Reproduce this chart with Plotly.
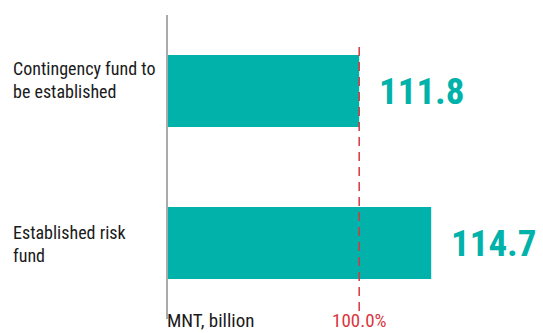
import plotly.graph_objects as go

# Data
categories = ["Contingency fund to<br>be established", "Established risk<br>fund"]
values = [111.8, 114.7]
value_labels = ["111.8", "114.7"]
target_value = 111.8
target_label = "100.0%"
unit_label = "MNT, billion"

TEAL = "#00B2A9"
RED = "#D9363E"
FONT = "Roboto Condensed, Roboto, sans-serif"

W, H = 543, 333
ML, MR, MT, MB = 168, 23, 15, 14
plot_h = H - MT - MB


def py(px):
    """Convert a pixel row to paper y coordinate."""
    return (H - MB - px) / plot_h


fig = go.Figure()
fig.add_trace(go.Bar(
    y=list(range(len(values))),
    x=values,
    orientation="h",
    marker=dict(color=TEAL, line=dict(width=0)),
    hoverinfo="skip",
))

# Value labels next to bar ends
for i, (v, lab) in enumerate(zip(values, value_labels)):
    fig.add_annotation(
        x=v, y=i, xref="x", yref="y", text=f"<b>{lab}</b>",
        showarrow=False, xanchor="left", yanchor="middle", xshift=18,
        font=dict(family=FONT, size=37, color=TEAL),
    )

# Category labels, left aligned
label_rows = [80, 244]
for cat, row in zip(categories, label_rows):
    fig.add_annotation(
        x=-(ML - 11) / (W - ML - MR), y=py(row), xref="paper", yref="paper",
        text=cat, showarrow=False, xanchor="left", yanchor="middle", align="left",
        font=dict(family=FONT, size=18, color="#1a1a1a"),
    )

# Target reference line
fig.add_shape(
    type="line", xref="x", yref="paper", x0=target_value, x1=target_value,
    y0=py(311), y1=py(43), line=dict(color=RED, width=1.5, dash="9px,6px"),
)
fig.add_annotation(
    x=target_value, y=py(333), xref="x", yref="paper", text=target_label,
    showarrow=False, xanchor="center", yanchor="bottom", yshift=-1,
    font=dict(family=FONT, size=19, color=RED),
)
fig.add_annotation(
    x=0, y=py(333), xref="paper", yref="paper", text=unit_label,
    showarrow=False, xanchor="left", yanchor="bottom", xshift=-3, yshift=-1,
    font=dict(family=FONT, size=19, color="#1a1a1a"),
)

fig.update_layout(
    width=W, height=H,
    margin=dict(l=ML, r=MR, t=MT, b=MB),
    paper_bgcolor="white", plot_bgcolor="white",
    showlegend=False, bargap=0.526,
    xaxis=dict(range=[104.1, 104.1 + (W - ML - MR) / 24.83], visible=False, fixedrange=True),
    yaxis=dict(range=[1.5, -0.5], showticklabels=False, showgrid=False, zeroline=False,
               showline=True, linecolor="#AAAAAA", linewidth=1.5, ticks="", fixedrange=True),
)

fig.write_html("out.html", config={"displayModeBar": False})
